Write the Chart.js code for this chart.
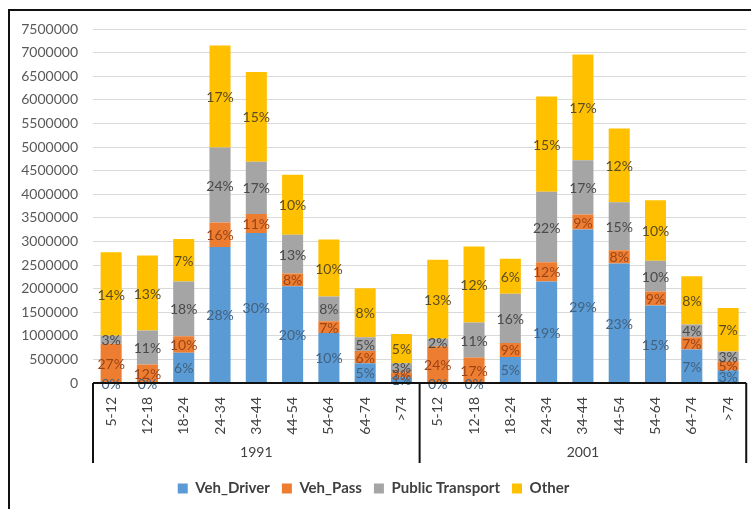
<!DOCTYPE html>
<html>
<head>
<meta charset="utf-8">
<script src="https://cdn.jsdelivr.net/npm/chart.js@4"></script>
<style>
  html, body { margin: 0; padding: 0; background: #fff; overflow: hidden; }
  #wrap { position: relative; width: 751px; height: 509px; }
  #frame { position: absolute; left: 8px; top: 9px; width: 800px; height: 600px;
           border-left: 2px solid #111; border-top: 2px solid #111; }
  canvas { position: absolute; left: 0; top: 0; }
</style>
</head>
<body>
<div id="wrap">
  <div id="frame"></div>
  <canvas id="chart" width="751" height="509"></canvas>
</div>
<script>
var years = ['1991', '2001'];
var ages = ['5-12', '12-18', '18-24', '24-34', '34-44', '44-54', '54-64', '64-74', '>74'];

// trips per age group, 1991 then 2001
var vehDriver = [0, 0, 640000, 2880000, 3180000, 2050000, 1060000, 420000, 120000,
                 0, 0, 550000, 2150000, 3250000, 2530000, 1640000, 710000, 270000];
var vehPass = [830000, 390000, 350000, 520000, 400000, 270000, 250000, 260000, 100000,
               780000, 540000, 300000, 410000, 320000, 280000, 300000, 260000, 190000];
var publicTransport = [170000, 720000, 1160000, 1590000, 1110000, 820000, 520000, 290000, 200000,
                       160000, 740000, 1040000, 1490000, 1150000, 1020000, 650000, 270000, 210000];
var other = [1770000, 1590000, 900000, 2160000, 1900000, 1270000, 1210000, 1040000, 620000,
             1670000, 1610000, 740000, 2020000, 2240000, 1560000, 1280000, 1020000, 920000];

// data labels shown on each segment
var pctDriver = [0, 0, 6, 28, 30, 20, 10, 5, 1, 0, 0, 5, 19, 29, 23, 15, 7, 3];
var pctPass = [27, 12, 10, 16, 11, 8, 7, 6, 3, 24, 17, 9, 12, 9, 8, 9, 7, 5];
var pctPT = [3, 11, 18, 24, 17, 13, 8, 5, 3, 2, 11, 16, 22, 17, 15, 10, 4, 3];
var pctOther = [14, 13, 7, 17, 15, 10, 10, 8, 5, 13, 12, 6, 15, 17, 12, 10, 8, 7];

var yTicksMax = 7500000;
var yStep = 500000;

var labels = [];
years.forEach(function(y) { ages.forEach(function(a) { labels.push(a); }); });

var FONT = 'Lato, "Open Sans", sans-serif';

var pctLabels = {
	id: 'pctLabels',
	afterDatasetsDraw: function(chart) {
		var ctx = chart.ctx;
		ctx.save();
		ctx.font = '14px ' + FONT;
		ctx.textAlign = 'center';
		ctx.textBaseline = 'middle';
		chart.data.datasets.forEach(function(ds, di) {
			var meta = chart.getDatasetMeta(di);
			meta.data.forEach(function(bar, i) {
				var yMid = (bar.y + bar.base) / 2;
				ctx.fillStyle = ds.labelColor;
				ctx.fillText(ds.pct[i] + '%', bar.x, yMid + 1);
			});
		});
		ctx.restore();
	}
};

var groupAxis = {
	id: 'groupAxis',
	afterDraw: function(chart) {
		var ctx = chart.ctx;
		var xs = chart.scales.x;
		var area = chart.chartArea;
		var half = (xs.getPixelForValue(1) - xs.getPixelForValue(0)) / 2;
		var bottom = 463;
		ctx.save();
		ctx.strokeStyle = '#111';
		ctx.lineWidth = 2;
		ctx.beginPath();
		ctx.moveTo(area.left, area.bottom);
		ctx.lineTo(area.right, area.bottom);
		for (var g = 0; g <= years.length; g++) {
			var px = g < years.length ? xs.getPixelForValue(g * ages.length) - half
			                          : xs.getPixelForValue(labels.length - 1) + half;
			ctx.moveTo(px, area.bottom);
			ctx.lineTo(px, bottom);
		}
		ctx.stroke();
		ctx.font = '14px ' + FONT;
		ctx.fillStyle = '#404040';
		ctx.textAlign = 'center';
		ctx.textBaseline = 'middle';
		years.forEach(function(y, g) {
			var x0 = xs.getPixelForValue(g * ages.length) - half;
			var x1 = xs.getPixelForValue((g + 1) * ages.length - 1) + half;
			ctx.fillText(y, (x0 + x1) / 2, 452);
		});
		ctx.restore();
	}
};

var ctx = document.getElementById('chart').getContext('2d');
new Chart(ctx, {
	type: 'bar',
	data: {
		labels: labels,
		datasets: [{
			label: 'Veh_Driver',
			data: vehDriver,
			pct: pctDriver,
			backgroundColor: '#5b9bd5',
			labelColor: '#42627f'
		}, {
			label: 'Veh_Pass',
			data: vehPass,
			pct: pctPass,
			backgroundColor: '#ed7d31',
			labelColor: '#9c4418'
		}, {
			label: 'Public Transport',
			data: publicTransport,
			pct: pctPT,
			backgroundColor: '#a5a5a5',
			labelColor: '#4a4a4a'
		}, {
			label: 'Other',
			data: other,
			pct: pctOther,
			backgroundColor: '#ffc000',
			labelColor: '#5c4c22'
		}]
	},
	options: {
		responsive: false,
		animation: false,
		layout: {
			padding: { top: 29, right: 4, bottom: 3, left: 0 }
		},
		datasets: {
			bar: {
				categoryPercentage: 1,
				barPercentage: 0.58
			}
		},
		scales: {
			x: {
				stacked: true,
				grid: { display: false },
				border: { display: false },
				ticks: {
					minRotation: 90,
					maxRotation: 90,
					autoSkip: false,
					padding: 6,
					color: '#404040',
					font: { family: FONT, size: 14 }
				},
				afterFit: function(scale) { scale.height = 86; }
			},
			y: {
				stacked: true,
				min: 0,
				max: yTicksMax,
				grid: { color: '#d9d9d9', lineWidth: 1, drawTicks: false },
				border: { display: false },
				ticks: {
					stepSize: yStep,
					padding: 15,
					color: '#595959',
					font: { family: FONT, size: 14 },
					callback: function(v) { return String(v); }
				},
				afterFit: function(scale) { scale.width = 93; }
			}
		},
		plugins: {
			legend: {
				position: 'bottom',
				labels: {
					boxWidth: 10,
					boxHeight: 10,
					padding: 12,
					color: '#404040',
					font: { family: FONT, size: 15, weight: 'bold' }
				}
			},
			tooltip: { enabled: false }
		}
	},
	plugins: [pctLabels, groupAxis]
});
</script>
</body>
</html>
